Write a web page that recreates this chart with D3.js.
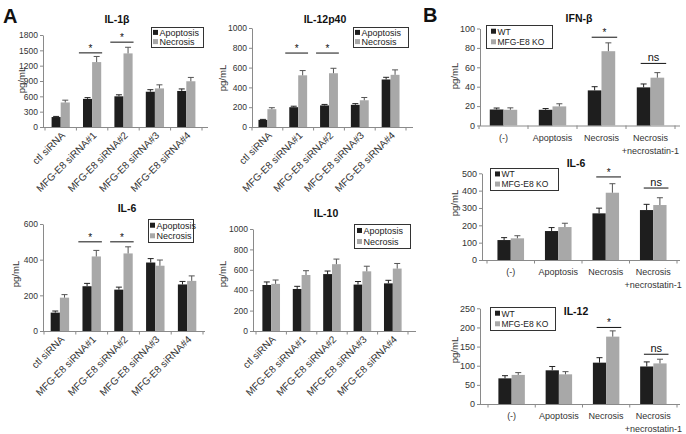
<!DOCTYPE html>
<html><head><meta charset="utf-8">
<script src="https://cdn.jsdelivr.net/npm/d3@7"></script>
<style>body{margin:0;background:#fff}svg{display:block;font-family:"Liberation Sans",Arial,sans-serif}</style>
</head><body><svg id="c" width="686" height="434"></svg>
<script>
// ---------- DATA ----------
const groupsA = ["ctl siRNA","MFG-E8 siRNA#1","MFG-E8 siRNA#2","MFG-E8 siRNA#3","MFG-E8 siRNA#4"];
const seriesA = ["Apoptosis","Necrosis"];

const il1bApoptosis    = [195,550,600,690,705];
const il1bApoptosisErr = [12,25,30,40,40];
const il1bNecrosis     = [480,1270,1440,755,895];
const il1bNecrosisErr  = [45,110,120,70,75];
const il1bTicks        = [0,300,600,900,1200,1500,1800];
const il1bSig          = [{group:1,level:1450,label:"*"},{group:2,level:1660,label:"*"}];

const il12p40Apoptosis    = [72,200,218,224,480];
const il12p40ApoptosisErr = [5,10,10,12,22];
const il12p40Necrosis     = [180,522,543,270,527];
const il12p40NecrosisErr  = [15,48,50,28,50];
const il12p40Ticks        = [0,200,400,600,800,1000];
const il12p40Sig          = [{group:1,level:747,label:"*"},{group:2,level:747,label:"*"}];

const il6aApoptosis    = [103,251,232,384,261];
const il6aApoptosisErr = [9,16,14,22,17];
const il6aNecrosis     = [187,418,435,366,281];
const il6aNecrosisErr  = [17,34,37,32,28];
const il6aTicks        = [0,200,400,600];
const il6aSig          = [{group:1,level:500,label:"*"},{group:2,level:500,label:"*"}];

const il10Apoptosis    = [451,412,558,455,467];
const il10ApoptosisErr = [30,26,30,30,30];
const il10Necrosis     = [462,549,655,585,612];
const il10NecrosisErr  = [38,42,50,50,50];
const il10Ticks        = [0,200,400,600,800,1000];
const il10Sig          = [];

const groupsB = ["(-)","Apoptosis","Necrosis","Necrosis +necrostatin-1"];
const seriesB = ["WT","MFG-E8 KO"];

const ifnbWT     = [16.5,16.2,36.2,39.3];
const ifnbWTErr  = [1.5,1.3,3.8,3.5];
const ifnbKO     = [16.2,19.7,76.6,49.3];
const ifnbKOErr  = [2,2.7,8.6,5.2];
const ifnbTicks  = [0,20,40,60,80,100];
const ifnbSig    = [{group:2,level:91,label:"*"},{group:3,level:64,label:"ns"}];

const il6bWT     = [115,167,269,288];
const il6bWTErr  = [14,20,30,33];
const il6bKO     = [125,190,388,317];
const il6bKOErr  = [15,22,52,42];
const il6bTicks  = [0,100,200,300,400,500];
const il6bSig    = [{group:2,level:479,label:"*"},{group:3,level:415,label:"ns"}];

const il12bWT    = [67,88,108,98];
const il12bWTErr = [7,10,13,12];
const il12bKO    = [76,77.5,176,106];
const il12bKOErr = [6,7,15,11];
const il12bTicks = [0,50,100,150,200,250];
const il12bSig   = [{group:2,level:200,label:"*"},{group:3,level:130,label:"ns"}];

// ---------- DRAWING ----------
const svg = d3.select("#c");
const FONT = "'Liberation Sans', Arial, sans-serif";
const colors = ["#1e1e1e","#a8a8a8"];
const errColors = ["#222","#555"];

function panel(o){
  const g = svg.append("g");
  const x = d3.scaleBand().domain(o.groups).range(o.band);
  const bw = x.bandwidth();
  const inner = d3.scaleBand().domain(o.series).range([bw*o.gap/2, bw*(1-o.gap/2)]);
  const y = d3.scaleLinear().domain([0, d3.max(o.ticks)]).range([o.y0, o.yTop]);

  // y axis
  const ya = g.append("g").attr("transform",`translate(${o.axisX},0)`)
    .call(d3.axisLeft(y).tickValues(o.ticks).tickFormat(d3.format("d")).tickSize(3).tickSizeOuter(0).tickPadding(2));
  ya.attr("font-family",FONT).attr("font-size",o.tickFont);
  ya.select(".domain").attr("stroke","#8a8a8a");
  ya.selectAll(".tick line").attr("stroke","#8a8a8a");
  ya.selectAll(".tick text").attr("fill","#333");

  // x axis line & boundary ticks
  g.append("line").attr("x1",o.axisX).attr("x2",o.axisEnd).attr("y1",o.y0+0.5).attr("y2",o.y0+0.5)
    .attr("stroke","#8a8a8a");
  const bounds = o.groups.map(d=>x(d)).concat([o.band[1]]);
  g.selectAll(".xt").data(bounds).join("line").attr("class","xt")
    .attr("x1",d=>d).attr("x2",d=>d).attr("y1",o.y0).attr("y2",o.y0+3.5).attr("stroke","#8a8a8a");

  // bars + error bars
  o.series.forEach((s,i)=>{
    const vals = o.values[i], errs = o.errors[i];
    g.selectAll(null).data(vals).join("rect")
      .attr("x",(d,j)=>x(o.groups[j])+inner(s))
      .attr("y",d=>y(d)).attr("width",inner.bandwidth()).attr("height",d=>o.y0-y(d))
      .attr("fill",colors[i]);
    const cx = j=>x(o.groups[j])+inner(s)+inner.bandwidth()/2;
    g.selectAll(null).data(vals).join("line")
      .attr("x1",(d,j)=>cx(j)).attr("x2",(d,j)=>cx(j))
      .attr("y1",d=>y(d)).attr("y2",(d,j)=>y(d+errs[j]))
      .attr("stroke",errColors[i]).attr("stroke-width",1);
    g.selectAll(null).data(vals).join("line")
      .attr("x1",(d,j)=>cx(j)-3).attr("x2",(d,j)=>cx(j)+3)
      .attr("y1",(d,j)=>y(d+errs[j])).attr("y2",(d,j)=>y(d+errs[j]))
      .attr("stroke",errColors[i]).attr("stroke-width",1);
  });

  // significance
  o.sig.forEach(s=>{
    const gx = x(o.groups[s.group]);
    const x1 = gx + bw*o.sigFrac[0], x2 = gx + bw*o.sigFrac[1];
    const yy = y(s.level);
    g.append("line").attr("x1",x1).attr("x2",x2).attr("y1",yy).attr("y2",yy).attr("stroke","#111").attr("stroke-width",1);
    g.append("text").attr("x",(x1+x2)/2).attr("y",yy-(s.label==="ns"?2.5:1))
      .attr("text-anchor","middle").attr("font-size",s.label==="ns"?11:10).attr("fill","#111")
      .text(s.label);
  });

  // legend
  const L = o.legend;
  g.append("rect").attr("x",L.x+0.5).attr("y",L.y+0.5).attr("width",L.w).attr("height",L.h)
    .attr("fill","#fff").attr("stroke","#333").attr("stroke-width",1);
  o.series.forEach((s,i)=>{
    const cy = L.y + L.h*(i===0?0.27:0.73);
    g.append("rect").attr("x",L.x+L.sx).attr("y",cy-2.5).attr("width",5).attr("height",5).attr("fill",colors[i]);
    g.append("text").attr("x",L.x+L.sx+6.5).attr("y",cy+3.3).attr("font-size",L.font).attr("fill","#222").text(s);
  });

  // x labels
  if(o.rotLabels){
    g.selectAll(null).data(o.groups).join("text")
      .attr("transform",d=>`translate(${x(d)+bw/2+5},${o.y0+9}) rotate(-45)`)
      .attr("text-anchor","end").attr("font-size",o.labelFont).attr("fill","#333").text(d=>d);
  } else {
    o.groups.forEach(d=>{
      const parts = d.split(" +");
      const t = g.append("text").attr("x",x(d)+bw/2).attr("y",o.y0+15).attr("text-anchor","middle")
        .attr("font-size",o.labelFont).attr("fill","#333");
      t.append("tspan").attr("x",x(d)+bw/2).text(parts[0]);
      if(parts[1]) t.append("tspan").attr("x",x(d)+bw/2).attr("dy",13).text("+"+parts[1]);
    });
  }

  // title
  g.append("text").attr("x",o.title.x).attr("y",o.title.y).attr("text-anchor","middle")
    .attr("font-size",10.5).attr("font-weight","bold").attr("fill","#111").text(o.title.t);
  // y label
  g.append("text").attr("transform",`translate(${o.ylab.x},${o.ylab.y}) rotate(-90)`)
    .attr("text-anchor","middle").attr("font-size",9.5).attr("fill","#333").text("pg/mL");
}

const commonA = {groups:groupsA, series:seriesA, gap:0.42, sigFrac:[0.08,0.82], rotLabels:true, tickFont:8.5, labelFont:10};
const commonB = {groups:groupsB, series:seriesB, gap:0.44, sigFrac:[0.3,0.82], rotLabels:false, tickFont:9, labelFont:9};

panel({...commonA, values:[il1bApoptosis,il1bNecrosis], errors:[il1bApoptosisErr,il1bNecrosisErr],
  ticks:il1bTicks, sig:il1bSig, axisX:43, band:[45,202], axisEnd:208, y0:127, yTop:35,
  legend:{x:151,y:27,w:52,h:20,sx:2,font:9}, title:{t:"IL-1β",x:117,y:23}, ylab:{x:25,y:80}});
panel({...commonA, values:[il12p40Apoptosis,il12p40Necrosis], errors:[il12p40ApoptosisErr,il12p40NecrosisErr],
  ticks:il12p40Ticks, sig:il12p40Sig, axisX:252, band:[252,406], axisEnd:413, y0:127, yTop:28,
  legend:{x:353,y:27,w:55,h:20,sx:2,font:9}, title:{t:"IL-12p40",x:325,y:23}, ylab:{x:226,y:78}});
panel({...commonA, values:[il6aApoptosis,il6aNecrosis], errors:[il6aApoptosisErr,il6aNecrosisErr],
  ticks:il6aTicks, sig:il6aSig, axisX:43, band:[44,203], axisEnd:205, y0:331, yTop:224,
  legend:{x:148,y:219,w:45,h:23,sx:2,font:9}, title:{t:"IL-6",x:127,y:212}, ylab:{x:19,y:274}});
panel({...commonA, values:[il10Apoptosis,il10Necrosis], errors:[il10ApoptosisErr,il10NecrosisErr],
  ticks:il10Ticks, sig:il10Sig, axisX:253, band:[256,408], axisEnd:416, y0:331, yTop:229,
  legend:{x:354,y:224,w:56,h:24,sx:3,font:9}, title:{t:"IL-10",x:326,y:217}, ylab:{x:226,y:274}});

panel({...commonB, values:[ifnbWT,ifnbKO], errors:[ifnbWTErr,ifnbKOErr],
  ticks:ifnbTicks, sig:ifnbSig, axisX:480, band:[479,675], axisEnd:680, y0:125.5, yTop:28.5,
  legend:{x:486,y:25,w:66,h:23,sx:5,font:8.5}, title:{t:"IFN-β",x:579,y:22}, ylab:{x:458,y:76}});
panel({...commonB, values:[il6bWT,il6bKO], errors:[il6bWTErr,il6bKOErr],
  ticks:il6bTicks, sig:il6bSig, axisX:482, band:[487,677], axisEnd:680, y0:260, yTop:173.3,
  legend:{x:490,y:168,w:68,h:22,sx:5,font:8.5}, title:{t:"IL-6",x:576,y:167}, ylab:{x:458,y:203}});
panel({...commonB, values:[il12bWT,il12bKO], errors:[il12bWTErr,il12bKOErr],
  ticks:il12bTicks, sig:il12bSig, axisX:480, band:[488,677], axisEnd:680, y0:404, yTop:308.3,
  legend:{x:490,y:307,w:65,h:23,sx:5,font:8.5}, title:{t:"IL-12",x:576,y:315}, ylab:{x:458,y:350}});

// panel letters
svg.append("text").attr("x",3).attr("y",23).attr("font-size",20).attr("font-weight","bold").attr("fill","#111").text("A");
svg.append("text").attr("x",423).attr("y",22).attr("font-size",20).attr("font-weight","bold").attr("fill","#111").text("B");
</script></body></html>
